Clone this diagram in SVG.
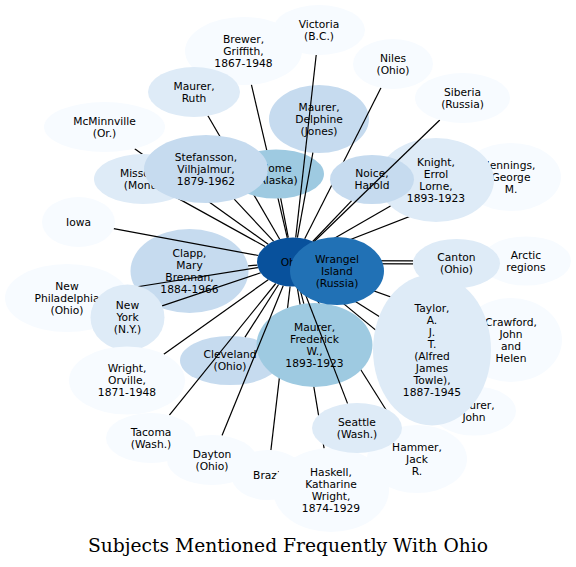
<svg xmlns="http://www.w3.org/2000/svg" width="576" height="567" viewBox="0 0 576 567">
<style>
.n0{fill:#f7fbff}.n1{fill:#deebf7}.n2{fill:#c6dbef}.n3{fill:#9ecae1}.n5{fill:#2171b5}.n6{fill:#08519c}
text{font-family:"DejaVu Sans","Liberation Sans",sans-serif;font-size:10.7px;fill:#000;text-anchor:middle}
.title{font-family:"DejaVu Serif","Liberation Serif",serif;font-size:18.7px}
#edges line{stroke:#000;stroke-width:1.2;fill:none}
</style>
<defs>
<mask id="m-nome" maskUnits="userSpaceOnUse" x="0" y="0" width="576" height="567"><rect width="576" height="567" fill="#fff"/><ellipse cx="276" cy="174" rx="48" ry="24.5" fill="#000"/></mask>
<mask id="m-noice" maskUnits="userSpaceOnUse" x="0" y="0" width="576" height="567"><rect width="576" height="567" fill="#fff"/><ellipse cx="372" cy="179.5" rx="42" ry="24.5" fill="#000"/></mask>
<mask id="m-knight" maskUnits="userSpaceOnUse" x="0" y="0" width="576" height="567"><rect width="576" height="567" fill="#fff"/><ellipse cx="436" cy="180" rx="58" ry="42" fill="#000"/></mask>
<mask id="m-fred" maskUnits="userSpaceOnUse" x="0" y="0" width="576" height="567"><rect width="576" height="567" fill="#fff"/><ellipse cx="314.5" cy="345" rx="58" ry="42" fill="#000"/></mask>
</defs>
<rect width="576" height="567" fill="#fff"/>

<g id="node-jennings"><ellipse class="n0" cx="511" cy="177" rx="50" ry="34"/><text><tspan x="511" y="168.5">Jennings,</tspan><tspan x="511" y="180.5">George</tspan><tspan x="511" y="192.5">M.</tspan></text></g>
<g id="node-knight"><ellipse class="n1" cx="436" cy="180" rx="58" ry="42"/><text><tspan x="436" y="165.5">Knight,</tspan><tspan x="436" y="177.5">Errol</tspan><tspan x="436" y="189.5">Lorne,</tspan><tspan x="436" y="201.5">1893-1923</tspan></text></g>
<g id="node-noice"><ellipse class="n2" cx="372" cy="179.5" rx="42" ry="24.5"/><text><tspan x="372" y="177">Noice,</tspan><tspan x="372" y="189">Harold</tspan></text></g>
<g id="node-nome"><ellipse class="n3" cx="276" cy="174" rx="48" ry="24.5"/><text><tspan x="276" y="171.5">Nome</tspan><tspan x="276" y="183.5">(Alaska)</tspan></text></g>
<g id="node-delphine"><ellipse class="n2" cx="319" cy="119" rx="50" ry="34"/><text><tspan x="319" y="110.5">Maurer,</tspan><tspan x="319" y="122.5">Delphine</tspan><tspan x="319" y="134.5">(Jones)</tspan></text></g>
<g id="node-clapp"><ellipse class="n2" cx="189.5" cy="271" rx="59" ry="42"/><text><tspan x="189.5" y="256.5">Clapp,</tspan><tspan x="189.5" y="268.5">Mary</tspan><tspan x="189.5" y="280.5">Brennan,</tspan><tspan x="189.5" y="292.5">1884-1966</tspan></text></g>
<g id="node-cleveland"><ellipse class="n2" cx="230" cy="360.5" rx="50" ry="24.5"/><text><tspan x="230" y="358">Cleveland</tspan><tspan x="230" y="370">(Ohio)</tspan></text></g>
<g id="node-frederick"><ellipse class="n3" cx="314.5" cy="345" rx="58" ry="42"/><text><tspan x="314.5" y="330.5">Maurer,</tspan><tspan x="314.5" y="342.5">Frederick</tspan><tspan x="314.5" y="354.5">W.,</tspan><tspan x="314.5" y="366.5">1893-1923</tspan></text></g>

<g id="edges">
<line x1="295.7" y1="237.6" x2="316.2" y2="55"/>
<line x1="287.3" y1="237.8" x2="251.4" y2="84.7" mask="url(#m-nome)"/>
<line x1="304.7" y1="238.8" x2="381" y2="87.8" mask="url(#m-noice)"/>
<line x1="313.7" y1="242" x2="439.8" y2="120"/>
<line x1="279.7" y1="239.2" x2="207.9" y2="115.8" mask="url(#m-nome)"/>
<line x1="297.4" y1="237.7" x2="312.9" y2="152.7"/>
<line x1="268.2" y1="244.2" x2="134.7" y2="148.7"/>
<line x1="273.7" y1="241.3" x2="234.2" y2="199.2"/>
<line x1="265.1" y1="246.5" x2="176.2" y2="197.4"/>
<line x1="288.3" y1="237.7" x2="280.7" y2="198.4"/>
<line x1="312.7" y1="241.5" x2="351.5" y2="200.9"/>
<line x1="320.5" y1="246.2" x2="390.5" y2="206.1"/>
<line x1="324.2" y1="249.8" x2="467.6" y2="193.9" mask="url(#m-knight)"/>
<line x1="258.3" y1="255.5" x2="113.7" y2="228.6"/>
<line x1="257.3" y1="265.1" x2="248.1" y2="265.9"/>
<line x1="329" y1="260.6" x2="413.2" y2="260.9"/>
<line x1="329" y1="263.6" x2="413.1" y2="263.9"/>
<line x1="257.9" y1="267.6" x2="126.5" y2="288.5"/>
<line x1="260.7" y1="272.8" x2="162.1" y2="305.9"/>
<line x1="319.4" y1="278.7" x2="379.2" y2="316.6"/>
<line x1="324.9" y1="273.4" x2="464.2" y2="323.3"/>
<line x1="299.2" y1="286.1" x2="303.8" y2="303.7"/>
<line x1="278.6" y1="284.5" x2="245" y2="337.1"/>
<line x1="268.2" y1="279.7" x2="163.8" y2="354.2"/>
<line x1="315.9" y1="280.9" x2="449.7" y2="391"/>
<line x1="302.1" y1="285.7" x2="347.6" y2="403.6"/>
<line x1="307.2" y1="284.5" x2="397.3" y2="427.7" mask="url(#m-fred)"/>
<line x1="275.7" y1="283.5" x2="169.4" y2="415.2"/>
<line x1="283.3" y1="285.6" x2="222" y2="435.6"/>
<line x1="290.1" y1="286.4" x2="270.9" y2="450.1" mask="url(#m-fred)"/>
<line x1="297.1" y1="286.3" x2="324.1" y2="448.3" mask="url(#m-fred)"/>
</g>

<g id="node-victoria"><ellipse class="n0" cx="319" cy="30" rx="46" ry="25"/><text><tspan x="319" y="27.5">Victoria</tspan><tspan x="319" y="39.5">(B.C.)</tspan></text></g>
<g id="node-brewer"><ellipse class="n0" cx="243.5" cy="51" rx="58.5" ry="34"/><text><tspan x="243.5" y="42.5">Brewer,</tspan><tspan x="243.5" y="54.5">Griffith,</tspan><tspan x="243.5" y="66.5">1867-1948</tspan></text></g>
<g id="node-ruth"><ellipse class="n1" cx="194" cy="92" rx="46" ry="25"/><text><tspan x="194" y="89.5">Maurer,</tspan><tspan x="194" y="101.5">Ruth</tspan></text></g>
<g id="node-niles"><ellipse class="n0" cx="393" cy="64" rx="40" ry="25"/><text><tspan x="393" y="61.5">Niles</tspan><tspan x="393" y="73.5">(Ohio)</tspan></text></g>
<g id="node-siberia"><ellipse class="n0" cx="462.5" cy="98" rx="47.5" ry="25"/><text><tspan x="462.5" y="95.5">Siberia</tspan><tspan x="462.5" y="107.5">(Russia)</tspan></text></g>
<g id="node-mcminnville"><ellipse class="n0" cx="104.5" cy="127" rx="60.5" ry="25"/><text><tspan x="104.5" y="124.5">McMinnville</tspan><tspan x="104.5" y="136.5">(Or.)</tspan></text></g>
<g id="node-missoula"><ellipse class="n1" cx="143" cy="179" rx="49" ry="25"/><text><tspan x="143" y="176.5">Missoula</tspan><tspan x="143" y="188.5">(Mont.)</tspan></text></g>
<g id="node-stefansson"><ellipse class="n2" cx="206" cy="169" rx="62" ry="34"/><text><tspan x="206" y="160.5">Stefansson,</tspan><tspan x="206" y="172.5">Vilhjalmur,</tspan><tspan x="206" y="184.5">1879-1962</tspan></text></g>
<g id="node-iowa"><ellipse class="n0" cx="78.5" cy="222" rx="36.5" ry="25"/><text x="78.5" y="225.5">Iowa</text></g>
<g id="node-newphiladelphia"><ellipse class="n0" cx="67" cy="298" rx="62" ry="34"/><text><tspan x="67" y="289.5">New</tspan><tspan x="67" y="301.5">Philadelphia</tspan><tspan x="67" y="313.5">(Ohio)</tspan></text></g>
<g id="node-newyork"><ellipse class="n1" cx="127.5" cy="317.5" rx="37" ry="33"/><text><tspan x="127.5" y="309">New</tspan><tspan x="127.5" y="321">York</tspan><tspan x="127.5" y="333">(N.Y.)</tspan></text></g>
<g id="node-wright"><ellipse class="n0" cx="127" cy="380.5" rx="58" ry="34"/><text><tspan x="127" y="372">Wright,</tspan><tspan x="127" y="384">Orville,</tspan><tspan x="127" y="396">1871-1948</tspan></text></g>
<g id="node-arctic"><ellipse class="n0" cx="526" cy="261" rx="45" ry="24.5"/><text><tspan x="526" y="258.5">Arctic</tspan><tspan x="526" y="270.5">regions</tspan></text></g>
<g id="node-canton"><ellipse class="n1" cx="456.5" cy="263.5" rx="43.5" ry="24.5"/><text><tspan x="456.5" y="261">Canton</tspan><tspan x="456.5" y="273">(Ohio)</tspan></text></g>
<g id="node-crawford"><ellipse class="n0" cx="511" cy="340" rx="51" ry="42"/><text><tspan x="511" y="325.5">Crawford,</tspan><tspan x="511" y="337.5">John</tspan><tspan x="511" y="349.5">and</tspan><tspan x="511" y="361.5">Helen</tspan></text></g>
<g id="node-maurerjohn"><ellipse class="n0" cx="474" cy="411" rx="42" ry="24.5"/><text><tspan x="474" y="408.5">Maurer,</tspan><tspan x="474" y="420.5">John</tspan></text></g>
<g id="node-hammer"><ellipse class="n0" cx="417" cy="459" rx="50" ry="34"/><text><tspan x="417" y="450.5">Hammer,</tspan><tspan x="417" y="462.5">Jack</tspan><tspan x="417" y="474.5">R.</tspan></text></g>
<g id="node-taylor"><ellipse class="n1" cx="432" cy="350" rx="59" ry="75.5"/><text><tspan x="432" y="311.5">Taylor,</tspan><tspan x="432" y="323.5">A.</tspan><tspan x="432" y="335.5">J.</tspan><tspan x="432" y="347.5">T.</tspan><tspan x="432" y="359.5">(Alfred</tspan><tspan x="432" y="371.5">James</tspan><tspan x="432" y="383.5">Towle),</tspan><tspan x="432" y="395.5">1887-1945</tspan></text></g>
<g id="node-tacoma"><ellipse class="n0" cx="151" cy="438" rx="45" ry="25"/><text><tspan x="151" y="435.5">Tacoma</tspan><tspan x="151" y="447.5">(Wash.)</tspan></text></g>
<g id="node-dayton"><ellipse class="n0" cx="212" cy="460" rx="45" ry="25"/><text><tspan x="212" y="457.5">Dayton</tspan><tspan x="212" y="469.5">(Ohio)</tspan></text></g>
<g id="node-brazil"><ellipse class="n0" cx="268" cy="475" rx="37" ry="25"/><text x="268" y="478.5">Brazil</text></g>
<g id="node-haskell"><ellipse class="n0" cx="331" cy="490" rx="58" ry="42"/><text><tspan x="331" y="475.5">Haskell,</tspan><tspan x="331" y="487.5">Katharine</tspan><tspan x="331" y="499.5">Wright,</tspan><tspan x="331" y="511.5">1874-1929</tspan></text></g>
<g id="node-seattle"><ellipse class="n1" cx="357" cy="428" rx="45" ry="25"/><text><tspan x="357" y="425.5">Seattle</tspan><tspan x="357" y="437.5">(Wash.)</tspan></text></g>
<g id="node-ohio"><ellipse class="n6" cx="293" cy="262" rx="36" ry="24.5"/><text x="293" y="265.5">Ohio</text></g>
<g id="node-wrangel"><ellipse class="n5" cx="337" cy="271" rx="47" ry="34"/><text><tspan x="337" y="262.5">Wrangel</tspan><tspan x="337" y="274.5">Island</tspan><tspan x="337" y="286.5">(Russia)</tspan></text></g>

<text class="title" x="288" y="552">Subjects Mentioned Frequently With Ohio</text>
</svg>
